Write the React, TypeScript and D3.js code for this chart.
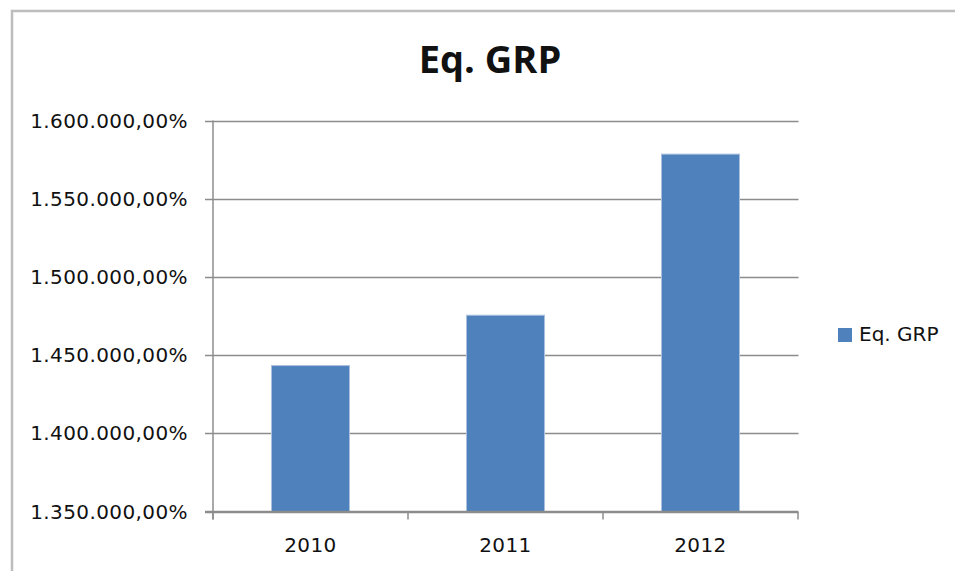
import React, { useEffect, useRef } from 'react';
import * as d3 from 'd3';

const years = ['2010', '2011', '2012'];
const eqGrp = [1443300, 1475500, 1578500];
const yTicks = [1350000, 1400000, 1450000, 1500000, 1550000, 1600000];
const seriesName = 'Eq. GRP';

const W = 955;
const H = 571;
const margin = { top: 120.5, right: 157, bottom: 59.5, left: 213 };

const locale = d3.formatLocale({ decimal: ',', thousands: '.', grouping: [3], currency: ['', '€'] });
const fmt = locale.format(',.2f');

const App = () => {
  const ref = useRef<SVGSVGElement>(null);

  useEffect(() => {
    const svg = d3.select(ref.current);
    svg.selectAll('*').remove();

    const x = d3.scaleBand()
      .domain(years)
      .range([margin.left, W - margin.right])
      .paddingInner(0.6)
      .paddingOuter(0.3);

    const y = d3.scaleLinear()
      .domain([yTicks[0], yTicks[yTicks.length - 1]])
      .range([H - margin.bottom, margin.top]);

    // chart border (right and bottom edges fall outside the picture)
    svg.append('rect')
      .attr('x', 12).attr('y', 11)
      .attr('width', W + 50).attr('height', H + 50)
      .attr('fill', 'white')
      .attr('stroke', '#bdbdbd')
      .attr('stroke-width', 2.5);

    // title
    svg.append('text')
      .attr('x', 490).attr('y', 73)
      .attr('text-anchor', 'middle')
      .attr('font-family', '"Open Sans", sans-serif')
      .attr('font-weight', 'bold')
      .attr('font-size', 38)
      .attr('fill', '#111')
      .text(seriesName);

    // gridlines
    svg.append('g')
      .selectAll('line')
      .data(yTicks)
      .join('line')
      .attr('x1', margin.left - 8)
      .attr('x2', W - margin.right + 0.5)
      .attr('y1', d => Math.round(y(d)) + 0.5)
      .attr('y2', d => Math.round(y(d)) + 0.5)
      .attr('stroke', '#8c8c8c')
      .attr('stroke-width', 1.5);

    // y labels
    svg.append('g')
      .attr('font-family', '"DejaVu Sans", sans-serif')
      .attr('font-size', 20)
      .attr('letter-spacing', 0.4)
      .attr('fill', '#111')
      .attr('text-anchor', 'end')
      .selectAll('text')
      .data(yTicks)
      .join('text')
      .attr('x', 188)
      .attr('y', d => y(d))
      .attr('dy', '0.35em')
      .text(d => fmt(d) + '%');

    // bars
    svg.append('g')
      .selectAll('rect')
      .data(eqGrp)
      .join('rect')
      .attr('x', (d, i) => x(years[i]))
      .attr('y', d => y(d))
      .attr('width', x.bandwidth())
      .attr('height', d => y(yTicks[0]) - y(d))
      .attr('fill', '#4f81bd')
      .attr('stroke', '#a9c0de')
      .attr('stroke-width', 1);

    // axes
    const axis = svg.append('g').attr('stroke', '#8c8c8c').attr('stroke-width', 1.5);
    axis.append('line')
      .attr('x1', margin.left).attr('x2', margin.left)
      .attr('y1', margin.top).attr('y2', H - margin.bottom + 8);
    axis.append('line')
      .attr('x1', margin.left - 8).attr('x2', W - margin.right)
      .attr('y1', H - margin.bottom).attr('y2', H - margin.bottom);
    const bounds = years.map(yr => x(yr) - x.step() * 0.3).concat([W - margin.right]);
    axis.selectAll('line.tick')
      .data(bounds)
      .join('line')
      .attr('class', 'tick')
      .attr('x1', d => d).attr('x2', d => d)
      .attr('y1', H - margin.bottom).attr('y2', H - margin.bottom + 8);

    // x labels
    svg.append('g')
      .attr('font-family', '"DejaVu Sans", sans-serif')
      .attr('font-size', 20)
      .attr('letter-spacing', 0.4)
      .attr('fill', '#111')
      .attr('text-anchor', 'middle')
      .selectAll('text')
      .data(years)
      .join('text')
      .attr('x', d => x(d) + x.bandwidth() / 2)
      .attr('y', 552)
      .text(d => d);

    // legend
    const legend = svg.append('g');
    legend.append('rect')
      .attr('x', 838).attr('y', 328)
      .attr('width', 14).attr('height', 14)
      .attr('fill', '#4f81bd');
    legend.append('text')
      .attr('x', 859).attr('y', 341)
      .attr('font-family', '"DejaVu Sans", sans-serif')
      .attr('font-size', 20)
      .attr('fill', '#111')
      .text(seriesName);
  });

  return (
    <div style={{ position: 'absolute', left: 0, top: 0 }}>
      <svg ref={ref} width={W} height={H} viewBox={`0 0 ${W} ${H}`} />
    </div>
  );
};

export default App;
